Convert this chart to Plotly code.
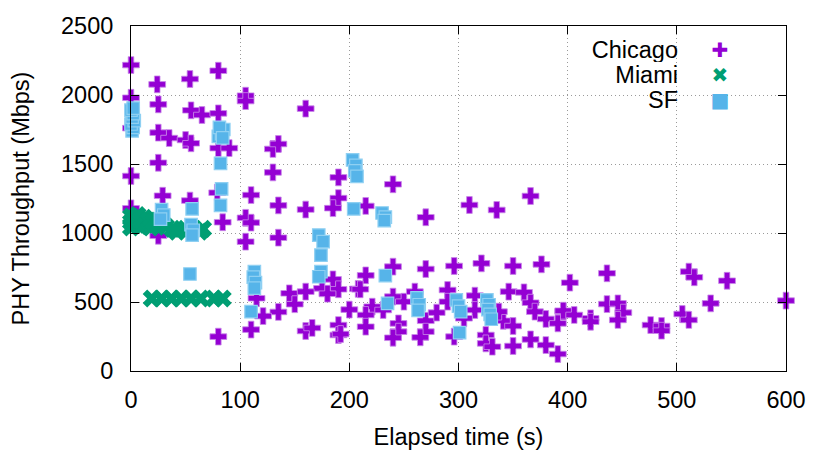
import plotly.graph_objects as go

# Chicago throughput samples (s, Mbps)
chicago_t = [0, 24, 54, 80, 0, 25, 55, 65, 80, 105, 105, 160, 25, 35, 50, 55, 80, 90,
             130, 135, 25, 0, 130, 190, 190, 29, 110, 54, 79, 0, 135, 160, 185, 0,
             25, 84, 105, 110, 105, 135, 185, 190, 175, 180, 145, 150, 160, 135, 121,
             110, 115, 160, 166, 190, 190, 200, 80, 208,
             240, 215, 270, 310, 335, 366, 215, 210, 240, 270, 296, 321, 350, 376, 402,
             221, 215, 215, 192, 231, 240, 250, 245, 245, 240, 260, 270, 270, 265, 280,
             290, 290, 296, 315, 315, 305, 325, 325, 331, 341, 350, 350, 346, 360, 366,
             370, 366, 380, 380, 391, 391, 396, 337,
             436, 511, 516, 546, 531, 600, 396, 406, 421, 421, 436, 446, 451, 446, 476,
             486, 486, 505, 511]
chicago_mbps = [2217, 2077, 2116, 2176, 1980, 1932, 1889, 1855, 1867, 1995, 1956, 1901,
                1727, 1688, 1674, 1650, 1615, 1615, 1609, 1645, 1509, 1413, 1439, 1403,
                1253, 1270, 1275, 1235, 1292, 1179, 1200, 1170, 1180, 1760,
                980, 1078, 1110, 1075, 937, 966, 664, 592, 599, 560, 563, 484, 575, 428,
                398, 300, 527, 290, 312, 333, 261, 445, 249, 595,
                1353, 1196, 1114, 1203, 1167, 1268, 693, 592, 756, 739, 761, 780, 761,
                773, 640, 466, 406, 321, 268, 442, 539, 502, 345, 285, 241, 575, 364, 285,
                244, 423, 587, 502, 249, 546, 442, 382, 261, 200, 176, 364, 326, 181, 575,
                570, 495, 430, 229, 377, 188, 345, 123, 430, 430,
                708, 720, 679, 654, 490, 510, 437, 406, 382, 357, 485, 490, 423, 370, 333,
                326, 292, 413, 370]

# Miami throughput samples
miami_t = [0, 0, 0, 3, 5, 6, 8, 9, 12, 14, 16, 18, 20, 25,
           32, 38, 42, 50, 56, 63, 66,
           19, 28, 37, 46, 55, 64, 76, 84]
miami_mbps = [1040, 1080, 1120, 1060, 1100, 1130, 1050, 1090, 1110, 1060, 1090, 1040, 1080, 1060,
              1046, 1030, 1010, 1030, 1020, 1010, 1030,
              525, 525, 525, 525, 525, 525, 525, 525]

# SF throughput samples
sf_t = [1, 2, 0, 3, 1, 2, 0, 2,
        80, 83, 85, 81, 84, 82, 83, 82,
        28, 30, 27, 56, 55, 57, 56, 54,
        203, 206, 205, 207, 204, 230, 233, 232,
        113, 112, 114, 113, 110,
        172, 176, 174, 174, 172,
        233, 235, 262, 264, 263,
        298, 300, 302, 301,
        326, 328, 327, 329, 330]
sf_mbps = [1740, 1765, 1790, 1815, 1840, 1865, 1890, 1905,
           1700, 1720, 1750, 1765, 1690, 1505, 1320, 1200,
           1170, 1130, 1100, 1175, 1060, 1020, 985, 703,
           1530, 1490, 1450, 1410, 1175, 1145, 1115, 1090,
           720, 680, 640, 600, 430,
           985, 937, 840, 720, 683,
           691, 490, 530, 480, 440,
           515, 470, 430, 278,
           515, 480, 445, 410, 375]

FONT = "Liberation Sans, Arial, sans-serif"
FS = 23.5
C_CHI = "#9400d3"
C_MIA = "#009e73"
C_SF = "#56b4e9"

fig = go.Figure()
fig.add_trace(go.Scatter(x=chicago_t, y=chicago_mbps, mode="markers", name="Chicago",
                         marker=dict(symbol="cross", size=14, color=C_CHI,
                                     line=dict(width=0.8, color="#c98ae8")),
                         cliponaxis=False))
fig.add_trace(go.Scatter(x=miami_t, y=miami_mbps, mode="markers", name="Miami",
                         marker=dict(symbol="x", size=16, color=C_MIA, line=dict(width=0)),
                         cliponaxis=False))
fig.add_trace(go.Scatter(x=sf_t, y=sf_mbps, mode="markers", name="SF",
                         marker=dict(symbol="square", size=12.5, color=C_SF,
                                     line=dict(width=1.2, color="#8fd0f2")),
                         cliponaxis=False))

axis_common = dict(showline=True, linecolor="black", linewidth=1, mirror="ticks",
                   ticks="inside", ticklen=8, tickcolor="black", tickwidth=1,
                   showgrid=True, gridcolor="#9a9a9a", griddash="1px,3px", gridwidth=1,
                   zeroline=False, automargin=False,
                   tickfont=dict(family=FONT, size=FS, color="black"))

fig.update_xaxes(range=[0, 600], dtick=100, tick0=0,
                 title=dict(text="Elapsed time (s)", font=dict(family=FONT, size=FS, color="black"),
                            standoff=16),
                 ticklabelstandoff=8, **axis_common)
fig.update_yaxes(range=[0, 2500], dtick=500, tick0=0,
                 title=dict(text="PHY Throughput (Mbps)", font=dict(family=FONT, size=FS, color="black"),
                            standoff=24),
                 ticklabelstandoff=12, **axis_common)

# key box in the style of an opaque gnuplot key (text right, sample left of edge)
fig.add_shape(type="rect", xref="paper", yref="paper", x0=0.68, x1=0.93, y0=0.76, y1=0.985,
              fillcolor="white", line=dict(width=0), layer="between")
key = [("Chicago", "\u271a", C_CHI, 0.930), ("Miami", "\u2716", C_MIA, 0.858), ("SF", "\u25a0", C_SF, 0.786)]
for label, glyph, col, yy in key:
    fig.add_annotation(xref="paper", yref="paper", x=0.836, y=yy, text=label, showarrow=False,
                       xanchor="right", yanchor="middle", width=110, height=24, align="right",
                       borderpad=0, font=dict(family=FONT, size=23.5, color="black"))
    fig.add_annotation(xref="paper", yref="paper", x=0.899, y=yy, text=glyph, showarrow=False,
                       xanchor="center", yanchor="middle", width=22, height=22, borderpad=0,
                       font=dict(family="DejaVu Sans", size=20, color=col))

# page body adds an 8px offset, so margins are shifted to land the frame on the same pixels
fig.update_layout(width=830, height=453, showlegend=False,
                  plot_bgcolor="white", paper_bgcolor="white",
                  margin=dict(l=123, r=52, t=18, b=90),
                  font=dict(family=FONT, color="black"))

fig.write_html("out.html")
